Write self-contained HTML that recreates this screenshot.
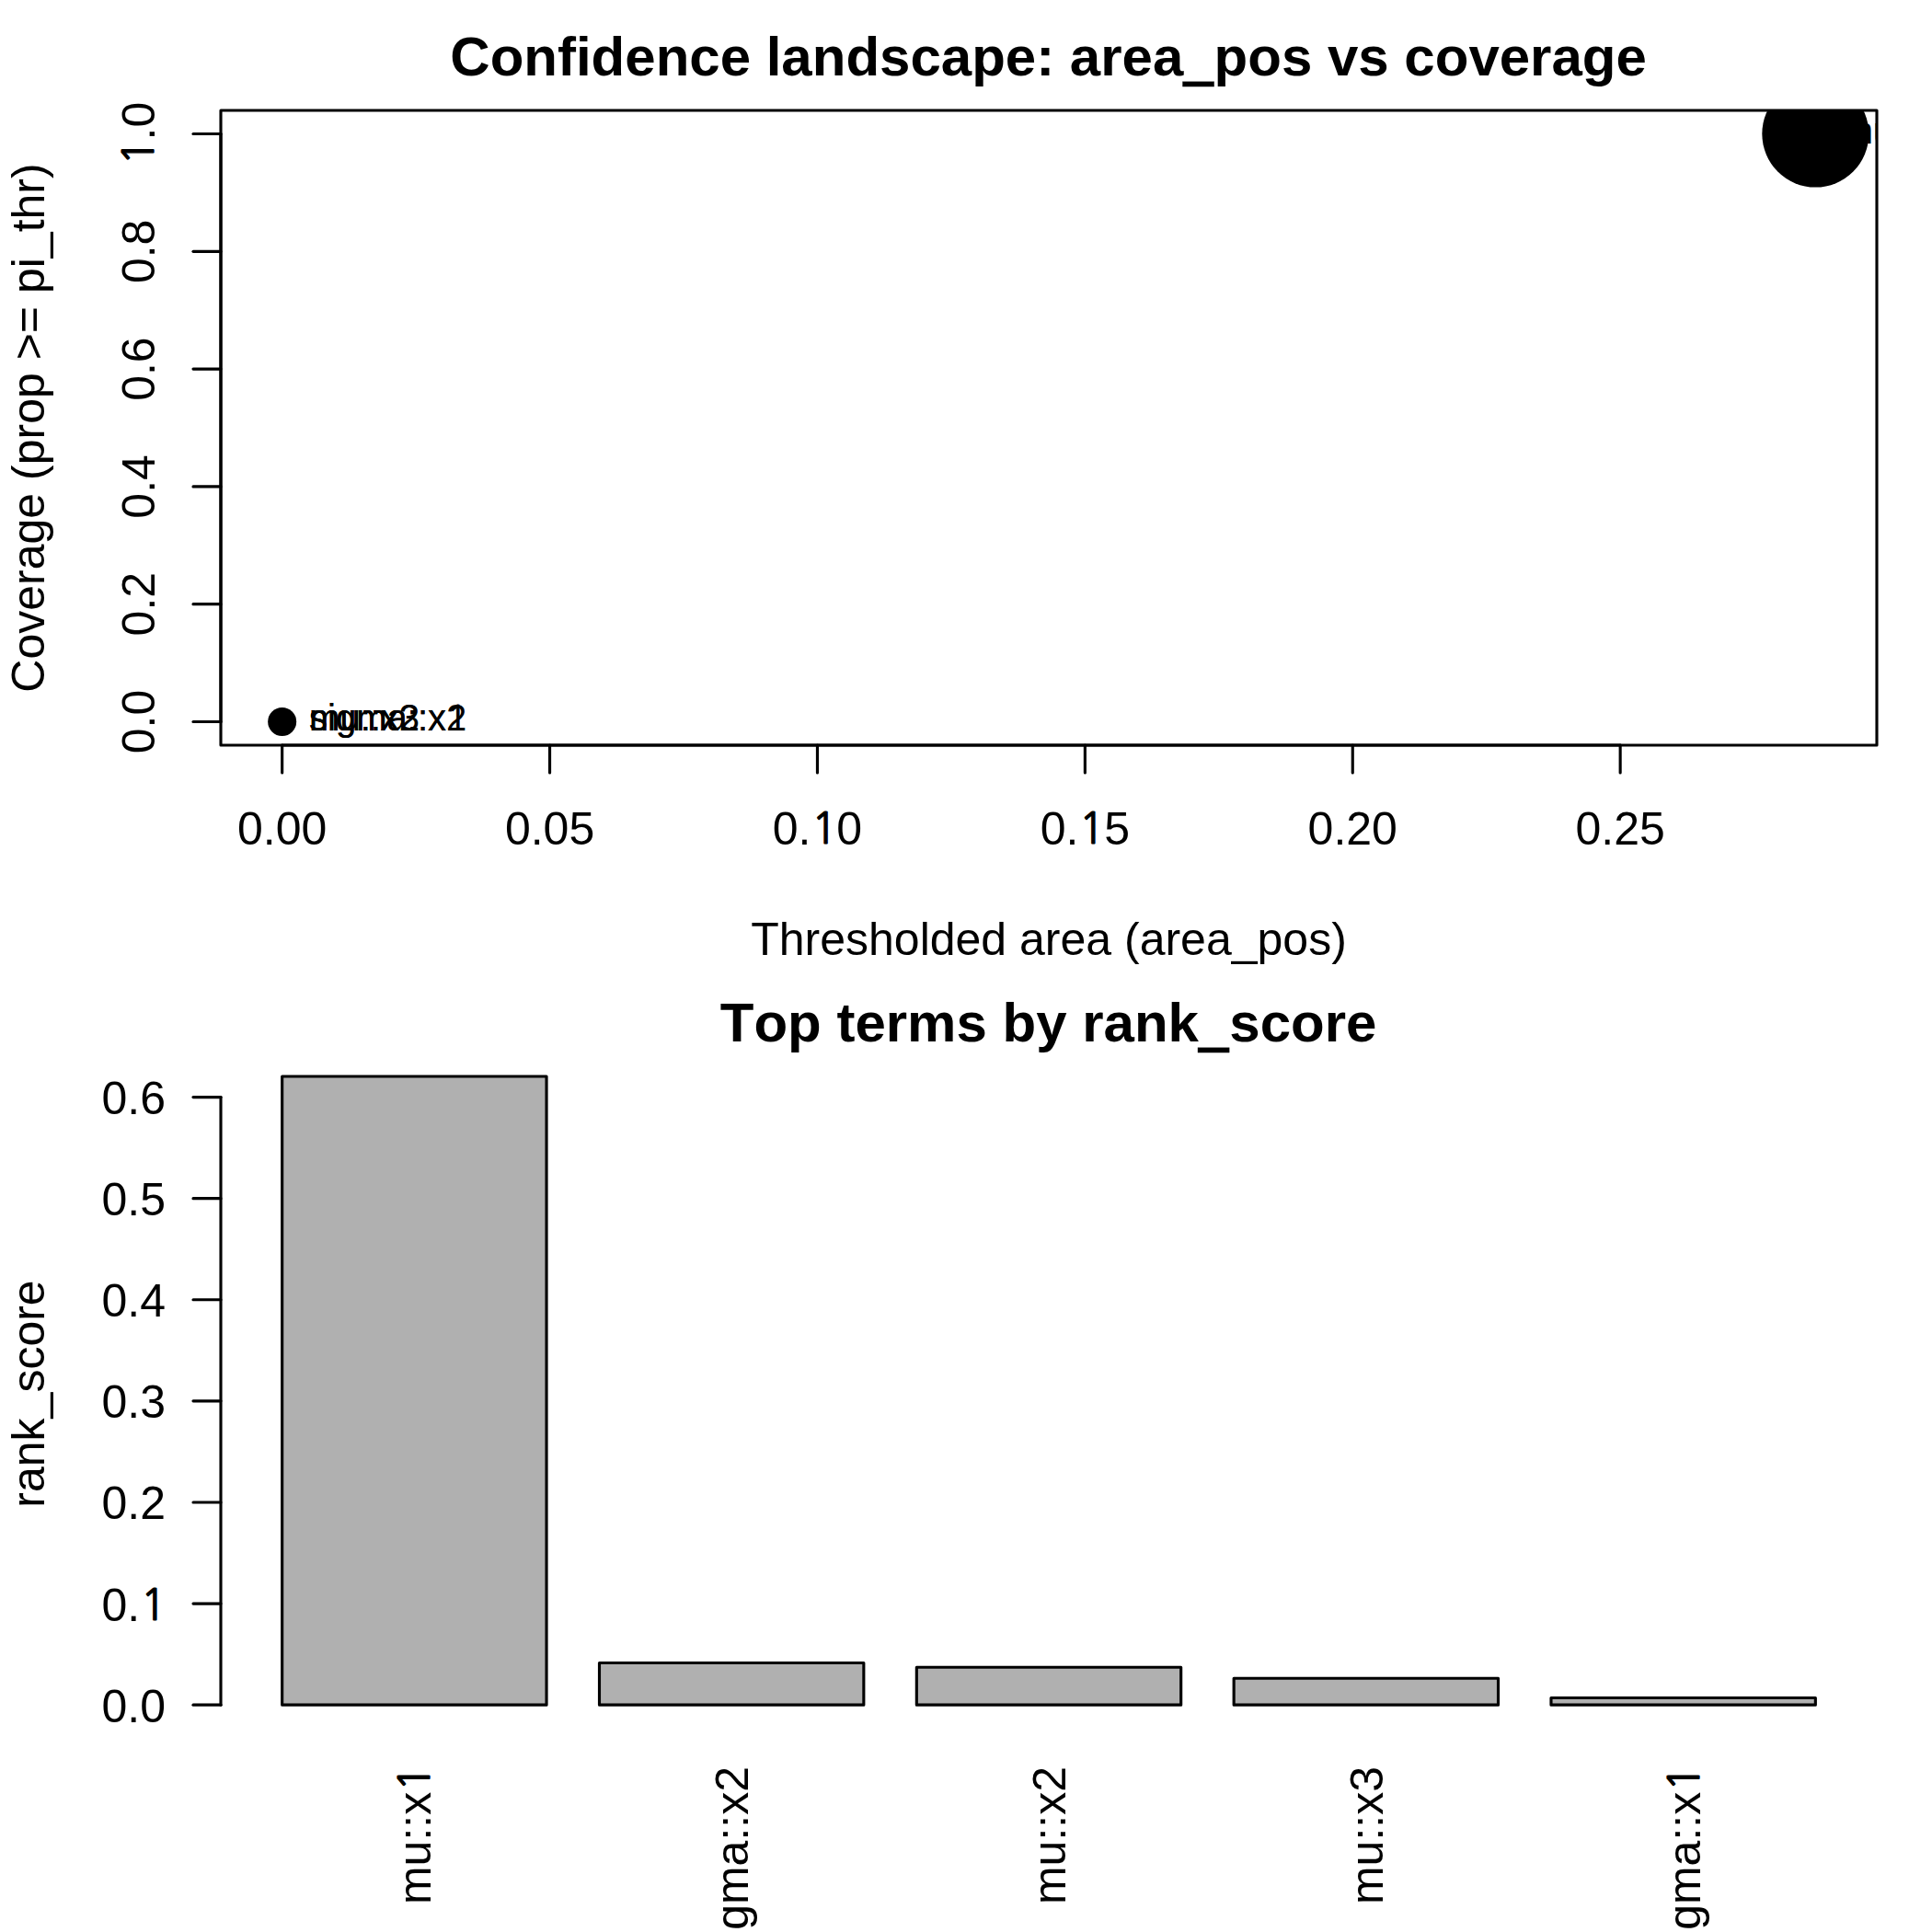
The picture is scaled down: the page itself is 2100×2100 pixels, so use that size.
<!DOCTYPE html>
<html lang="en"><head><meta charset="utf-8"><title>Confidence landscape</title>
<style>html,body{margin:0;padding:0;background:#fff;}body{width:2100px;height:2100px;overflow:hidden;}svg{display:block;}text{font-family:"Liberation Sans","DejaVu Sans",sans-serif;fill:#000;white-space:pre;font-kerning:none;}.one{font-family:"NanumGothic","Liberation Sans",sans-serif;stroke:#000;}.us{font-family:"DejaVu Sans Mono","Liberation Sans",monospace;font-weight:bold;stroke:#000;}.ln{stroke:#000;stroke-width:3.125;stroke-linecap:round;stroke-linejoin:round;fill:none;}.bar{stroke:#000;stroke-width:3.125;stroke-linejoin:round;fill:#B0B0B0;}.t50{font-size:50px;}.t40{font-size:40px;}.tt{font-size:60px;font-weight:bold;}</style></head><body>
<svg width="2100" height="2100" viewBox="0 0 2100 2100">
<rect x="0" y="0" width="2100" height="2100" fill="#fff"/>
<defs><clipPath id="clip1"><rect x="240" y="120" width="1800" height="690"/></clipPath></defs>
<g clip-path="url(#clip1)">
<circle cx="1973.33" cy="145.56" r="58" fill="#000"/>
<circle cx="306.67" cy="784.44" r="15.5" fill="#000"/>
<text class="t40" transform="translate(2002.73 155.86)"><tspan x="0" y="0">mu::x</tspan><tspan class="one" x="98.59" y="-0.8" style="font-size:36px;stroke-width:0.96">1</tspan></text>
<text class="t40" transform="translate(336.07 794.04)"><tspan x="0" y="0">sigma::x2</tspan></text>
<text class="t40" transform="translate(336.07 794.04)"><tspan x="0" y="0">mu::x2</tspan></text>
<text class="t40" transform="translate(336.07 794.04)"><tspan x="0" y="0">mu::x3</tspan></text>
<text class="t40" transform="translate(336.07 794.04)"><tspan x="0" y="0">sigma::x</tspan><tspan class="one" x="149.73" y="-0.8" style="font-size:36px;stroke-width:0.96">1</tspan></text>
</g>
<path class="ln" d="M306.67 810H1761.15"/>
<path class="ln" d="M306.67 810V840"/>
<text class="t50" transform="translate(306.67 918)"><tspan x="-48.66" y="0">0.00</tspan></text>
<path class="ln" d="M597.56 810V840"/>
<text class="t50" transform="translate(597.56 918)"><tspan x="-48.66" y="0">0.05</tspan></text>
<path class="ln" d="M888.46 810V840"/>
<text class="t50" transform="translate(888.46 918)"><tspan x="-48.66" y="0">0.</tspan><tspan class="one" x="-6.51" y="-1" style="font-size:46.5px;stroke-width:1.2">1</tspan><tspan x="20.85" y="0">0</tspan></text>
<path class="ln" d="M1179.36 810V840"/>
<text class="t50" transform="translate(1179.36 918)"><tspan x="-48.66" y="0">0.</tspan><tspan class="one" x="-6.51" y="-1" style="font-size:46.5px;stroke-width:1.2">1</tspan><tspan x="20.85" y="0">5</tspan></text>
<path class="ln" d="M1470.26 810V840"/>
<text class="t50" transform="translate(1470.26 918)"><tspan x="-48.66" y="0">0.20</tspan></text>
<path class="ln" d="M1761.15 810V840"/>
<text class="t50" transform="translate(1761.15 918)"><tspan x="-48.66" y="0">0.25</tspan></text>
<path class="ln" d="M240 784.44V145.56"/>
<path class="ln" d="M240 784.44H210"/>
<text class="t50" transform="translate(168 784.44) rotate(-90)"><tspan x="-34.75" y="0">0.0</tspan></text>
<path class="ln" d="M240 656.67H210"/>
<text class="t50" transform="translate(168 656.67) rotate(-90)"><tspan x="-34.75" y="0">0.2</tspan></text>
<path class="ln" d="M240 528.89H210"/>
<text class="t50" transform="translate(168 528.89) rotate(-90)"><tspan x="-34.75" y="0">0.4</tspan></text>
<path class="ln" d="M240 401.11H210"/>
<text class="t50" transform="translate(168 401.11) rotate(-90)"><tspan x="-34.75" y="0">0.6</tspan></text>
<path class="ln" d="M240 273.33H210"/>
<text class="t50" transform="translate(168 273.33) rotate(-90)"><tspan x="-34.75" y="0">0.8</tspan></text>
<path class="ln" d="M240 145.56H210"/>
<text class="t50" transform="translate(168 145.56) rotate(-90)"><tspan class="one" x="-34.3" y="-1" style="font-size:46.5px;stroke-width:1.2">1</tspan><tspan x="-6.95" y="0">.0</tspan></text>
<rect class="ln" x="240" y="120" width="1800" height="690"/>
<text class="tt" transform="translate(1139.6 81.8)"><tspan x="-650.27" y="0">Confidence landscape: area</tspan><tspan class="us" x="145.82" y="-0.78" style="font-size:56.7px;stroke-width:0.34">_</tspan><tspan x="180.03" y="0">pos vs coverage</tspan></text>
<text class="t50" transform="translate(1140 1038)"><tspan x="-323.8" y="0">Thresholded area (area_pos)</tspan></text>
<text class="t50" transform="translate(48 465) rotate(-90)"><tspan x="-287.66" y="0">Coverage (prop &gt;= pi_thr)</tspan></text>
<rect class="bar" x="306.67" y="1170" width="287.36" height="683.17"/>
<text class="t50" transform="translate(468.44 1920) rotate(-90)"><tspan x="-150.05" y="0">mu::x</tspan><tspan class="one" x="-27.36" y="-1" style="font-size:46.5px;stroke-width:1.2">1</tspan></text>
<rect class="bar" x="651.49" y="1807.5" width="287.36" height="45.67"/>
<text class="t50" transform="translate(813.27 1920) rotate(-90)"><tspan x="-213.96" y="0">sigma::x2</tspan></text>
<rect class="bar" x="996.32" y="1812.3" width="287.36" height="40.87"/>
<text class="t50" transform="translate(1158.1 1920) rotate(-90)"><tspan x="-150.05" y="0">mu::x2</tspan></text>
<rect class="bar" x="1341.15" y="1824.3" width="287.36" height="28.87"/>
<text class="t50" transform="translate(1502.93 1920) rotate(-90)"><tspan x="-150.05" y="0">mu::x3</tspan></text>
<rect class="bar" x="1685.98" y="1845.5" width="287.36" height="7.67"/>
<text class="t50" transform="translate(1847.76 1920) rotate(-90)"><tspan x="-213.96" y="0">sigma::x</tspan><tspan class="one" x="-27.36" y="-1" style="font-size:46.5px;stroke-width:1.2">1</tspan></text>
<path class="ln" d="M240 1853.17V1192.57"/>
<path class="ln" d="M240 1853.17H210"/>
<text class="t50" transform="translate(180 1871.67)"><tspan x="-69.51" y="0">0.0</tspan></text>
<path class="ln" d="M240 1743.07H210"/>
<text class="t50" transform="translate(180 1761.57)"><tspan x="-69.51" y="0">0.</tspan><tspan class="one" x="-27.36" y="-1" style="font-size:46.5px;stroke-width:1.2">1</tspan></text>
<path class="ln" d="M240 1632.97H210"/>
<text class="t50" transform="translate(180 1651.47)"><tspan x="-69.51" y="0">0.2</tspan></text>
<path class="ln" d="M240 1522.87H210"/>
<text class="t50" transform="translate(180 1541.37)"><tspan x="-69.51" y="0">0.3</tspan></text>
<path class="ln" d="M240 1412.77H210"/>
<text class="t50" transform="translate(180 1431.27)"><tspan x="-69.51" y="0">0.4</tspan></text>
<path class="ln" d="M240 1302.67H210"/>
<text class="t50" transform="translate(180 1321.17)"><tspan x="-69.51" y="0">0.5</tspan></text>
<path class="ln" d="M240 1192.57H210"/>
<text class="t50" transform="translate(180 1211.07)"><tspan x="-69.51" y="0">0.6</tspan></text>
<text class="tt" transform="translate(1139.6 1131.8)"><tspan x="-356.81" y="0">Top terms by rank</tspan><tspan class="us" x="162.49" y="-0.78" style="font-size:56.7px;stroke-width:0.34">_</tspan><tspan x="196.7" y="0">score</tspan></text>
<text class="t50" transform="translate(48 1515) rotate(-90)"><tspan x="-123.67" y="0">rank_score</tspan></text>
</svg></body></html>
